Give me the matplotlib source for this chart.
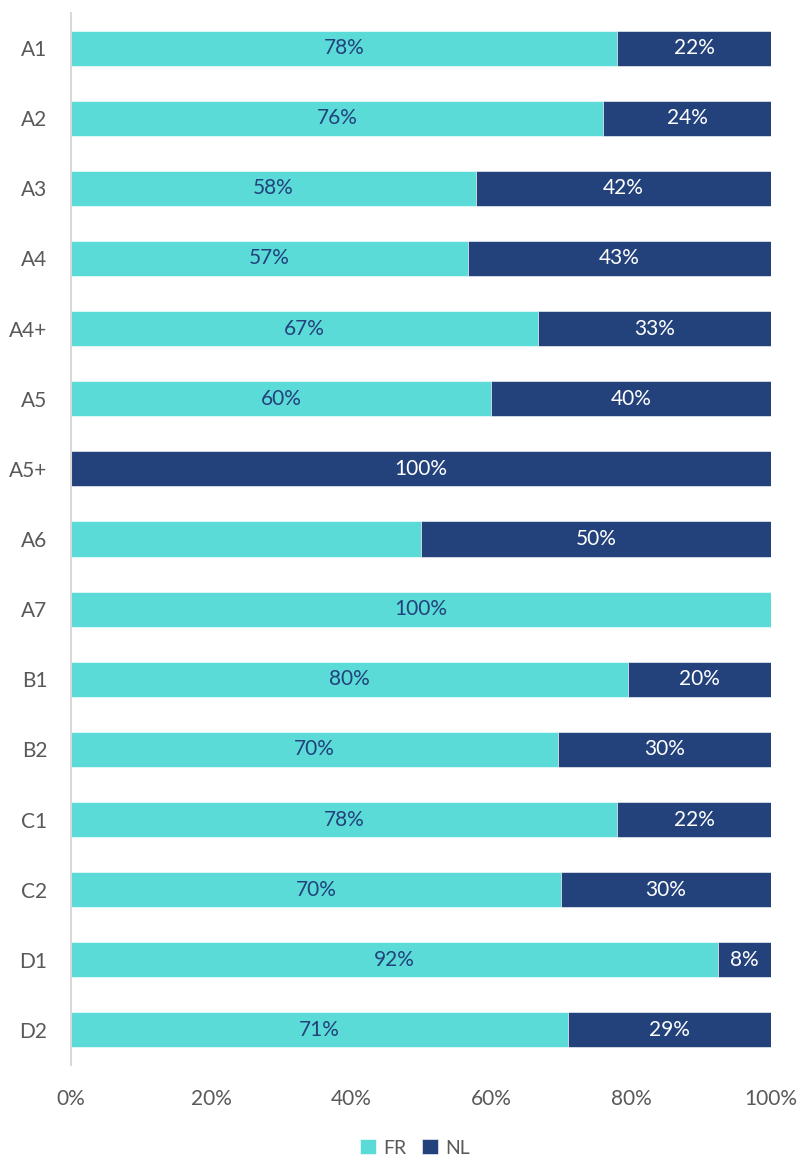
import matplotlib.pyplot as plt
import numpy as np

plt.rcParams['font.family'] = ['Lato', 'DejaVu Sans']

categories = ['A1', 'A2', 'A3', 'A4', 'A4+', 'A5', 'A5+', 'A6', 'A7',
              'B1', 'B2', 'C1', 'C2', 'D1', 'D2']
fr = np.array([78, 76, 57.9, 56.7, 66.7, 60, 0, 50, 100,
               79.6, 69.6, 78, 70, 92.4, 71])
nl = 100 - fr
# data labels as shown in the chart (A6 FR has none)
fr_labels = ['78%', '76%', '58%', '57%', '67%', '60%', '', '', '100%',
             '80%', '70%', '78%', '70%', '92%', '71%']
nl_labels = ['22%', '24%', '42%', '43%', '33%', '40%', '100%', '50%', '',
             '20%', '30%', '22%', '30%', '8%', '29%']

c_fr = '#5BDBD7'
c_nl = '#23427C'
grey = '#595959'

fig = plt.figure(figsize=(7.99, 11.56), dpi=100)
ax = fig.add_axes([71 / 799, 1 - 1065 / 1156, 700 / 799, 1052 / 1156])

y = np.arange(len(categories))
b1 = ax.barh(y, fr, height=0.5, color=c_fr, edgecolor='white', linewidth=0.4, label='FR')
b2 = ax.barh(y, nl, left=fr, height=0.5, color=c_nl, edgecolor='white', linewidth=0.4, label='NL')

for i in range(len(categories)):
    if fr_labels[i]:
        ax.text(fr[i] / 2, y[i], fr_labels[i], ha='center', va='center',
                color=c_nl, fontsize=15)
    if nl_labels[i]:
        ax.text(fr[i] + nl[i] / 2, y[i], nl_labels[i], ha='center', va='center',
                color='white', fontsize=15)

ax.set_ylim(len(categories) - 0.5, -0.5)
ax.set_xlim(0, 100)
ax.set_yticks(y)
ax.set_yticklabels(categories)
ax.set_xticks(np.arange(0, 101, 20))
ax.set_xticklabels(['%d%%' % v for v in range(0, 101, 20)])
ax.tick_params(axis='both', length=0, labelsize=15, colors=grey)
ax.tick_params(axis='y', pad=17)
ax.tick_params(axis='x', pad=17)

for s in ['top', 'right', 'bottom']:
    ax.spines[s].set_visible(False)
ax.spines['left'].set_color('#D9D9D9')
ax.spines['left'].set_linewidth(1.5)

leg = fig.legend(handles=[b1, b2], loc='center', bbox_to_anchor=(415 / 799, 1 - 1148 / 1156),
                 ncol=2, frameon=False, fontsize=14, handlelength=0.8, handleheight=0.8,
                 handletextpad=0.4, columnspacing=0.8)
for t in leg.get_texts():
    t.set_color(grey)

fig.savefig('out.png', dpi=100)
